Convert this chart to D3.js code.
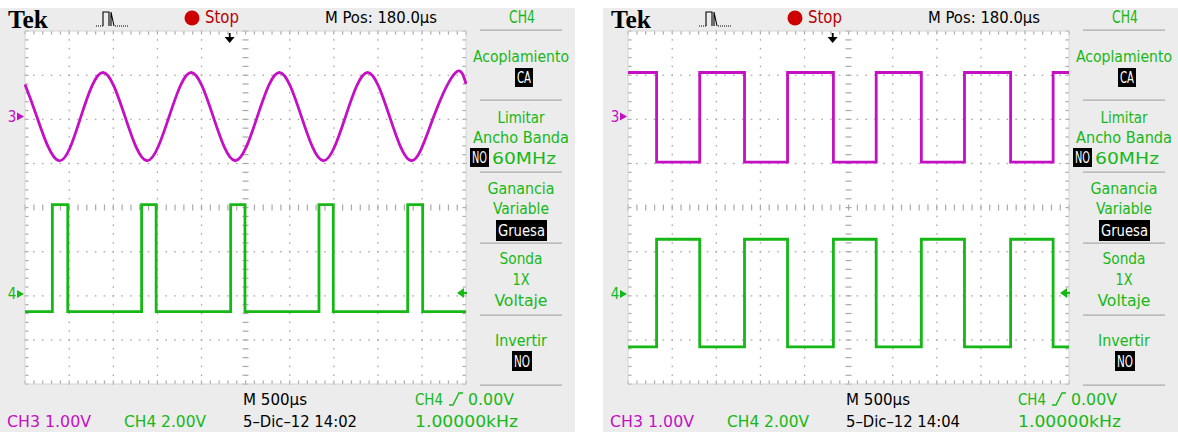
<!DOCTYPE html>
<html><head><meta charset="utf-8">
<script src="https://cdn.jsdelivr.net/npm/d3@7"></script>
<style>body{margin:0;background:#fff}svg{display:block}</style>
</head><body><svg id="c" width="1178" height="432"></svg>
<script>
// ---------- data ----------
const timeDomainUs = [0, 5000];          // 10 div x 500 us
const divDomain = [-4, 4];               // 8 vertical divisions
const ch3VoltsPerDiv = 1.0;
const ch4VoltsPerDiv = 2.0;
const ch3OffsetDiv = 2.06;
const ch4OffsetDiv = -1.96;

// Screen 1 (14:02): CH3 sine, CH4 narrow pulses
const s1Ch3Times = [0,134,384,634,884,1134,1384,1634,1884,2134,2384,2634,2884,3134,3384,3634,3884,4134,4384,4634,4884,5000];
const s1Ch3Volts = [0.73,0,-1,0,1,0,-1,0,1,0,-1,0,1,0,-1,0,1,0,-1,0,1,0.74];
const s1Ch4Times = [0,310,485,1322,1487,2332,2494,3333,3495,4339,4509,5000];
const s1Ch4Volts = [-0.8,4.05,-0.8,4.05,-0.8,4.05,-0.8,4.05,-0.8,4.05,-0.8,-0.8];

// Screen 2 (14:04): CH3 square, CH4 inverted square
const s2Times = [0,324,813,1321,1809,2329,2814,3326,3815,4338,4820,5000];
const s2Ch3Volts = [1,-1.03,1,-1.03,1,-1.03,1,-1.03,1,-1.03,1,1];
const s2Ch4Volts = [-2.4,2.48,-2.4,2.48,-2.4,2.48,-2.4,2.48,-2.4,2.48,-2.4,-2.4];

const headerLabels = {brand:"Tek", state:"Stop", mpos:"M Pos: 180.0\u00b5s", channel:"CH4"};
const triggerPosUs = 2320;
const menuLabels = ["Acoplamiento","Limitar","Ancho Banda","60MHz","Ganancia","Variable","Sonda","1X","Voltaje","Invertir"];
const menuBoxes = ["CA","NO","Gruesa","NO"];
const footerLabels = {timebase:"M 500\u00b5s", trig:"0.00V", trigCh:"CH4", ch3:"CH3  1.00V", ch4:"CH4  2.00V", freq:"1.00000kHz"};
const dateLabels = ["5\u2013Dic\u201312 14:02","5\u2013Dic\u201312 14:04"];

// ---------- drawing ----------
const MAG = "#c40fc4", GRN = "#16b816", GRID = "#a9a9a9", BG = "#ececec";
const FONT = "'DejaVu Sans Condensed','Liberation Sans Narrow','DejaVu Sans',sans-serif";
const svg = d3.select("#c");

const x = d3.scaleLinear().domain(timeDomainUs).range([25, 466]);
const y = d3.scaleLinear().domain(divDomain).range([384, 31]);

const panels = [
  {x0:0, ch3:s1Ch3Times.map((t,i)=>({t, v:s1Ch3Volts[i]})), ch3Curve:d3.curveNatural,
          ch4:s1Ch4Times.map((t,i)=>({t, v:s1Ch4Volts[i]})), date:dateLabels[0]},
  {x0:603, ch3:s2Times.map((t,i)=>({t, v:s2Ch3Volts[i]})), ch3Curve:d3.curveStepAfter,
          ch4:s2Times.map((t,i)=>({t, v:s2Ch4Volts[i]})), date:dateLabels[1]}
];

function txt(g, s, px, py, o={}) {
  const t = g.append("text").attr("x", px).attr("y", py).text(s)
    .attr("font-family", o.family || FONT).attr("font-size", o.size || 16)
    .attr("fill", o.fill || "#000").attr("text-anchor", o.anchor || "start")
    .attr("dominant-baseline", "central");
  if (o.weight) t.attr("font-weight", o.weight);
  if (o.len) t.attr("textLength", o.len).attr("lengthAdjust", "spacingAndGlyphs");
  return t;
}

panels.forEach((p, pi) => {
  const g = svg.append("g").attr("transform", `translate(${p.x0},0)`);
  g.append("rect").attr("x",0).attr("y",8).attr("width",575).attr("height",424).attr("fill",BG);
  g.append("rect").attr("x",x(0)).attr("y",y(4)).attr("width",x(5000)-x(0)).attr("height",y(-4)-y(4)).attr("fill","#fff");

  // graticule
  const gr = g.append("g").attr("fill", GRID);
  const minorT = d3.range(0, 5001, 100), minorV = d3.range(-4, 4.001, 0.2);
  d3.range(500, 5000, 500).filter(t=>t!==2500).forEach(t => {
    minorV.forEach(v => gr.append("rect").attr("x", x(t)-0.5).attr("y", y(v)-0.75).attr("width",1.3).attr("height",1.6));
  });
  d3.range(-3, 4, 1).filter(v=>v!==0).forEach(v => {
    minorT.forEach(t => gr.append("rect").attr("x", x(t)-0.75).attr("y", y(v)-0.5).attr("width",1.6).attr("height",1.3));
  });
  minorT.forEach(t => gr.append("rect").attr("x", x(t)-0.5).attr("y", y(0)-3).attr("width",1.2).attr("height",6));
  minorV.forEach(v => gr.append("rect").attr("x", x(2500)-3).attr("y", y(v)-0.5).attr("width",6).attr("height",1.2));
  minorT.forEach(t => {
    gr.append("rect").attr("x", x(t)-0.5).attr("y", y(4)).attr("width",1.2).attr("height",3.5);
    gr.append("rect").attr("x", x(t)-0.5).attr("y", y(-4)-3.5).attr("width",1.2).attr("height",3.5);
  });
  minorV.forEach(v => {
    gr.append("rect").attr("x", x(0)).attr("y", y(v)-0.5).attr("width",3.5).attr("height",1.2);
    gr.append("rect").attr("x", x(5000)-3.5).attr("y", y(v)-0.5).attr("width",3.5).attr("height",1.2);
  });
  g.append("rect").attr("x",x(0)).attr("y",y(4)).attr("width",x(5000)-x(0)).attr("height",y(-4)-y(4))
    .attr("fill","none").attr("stroke","#d4d4d4").attr("stroke-width",1);

  // traces
  const cid = "clip"+pi;
  g.append("clipPath").attr("id",cid).append("rect").attr("x",x(0)-1).attr("y",y(4)).attr("width",x(5000)-x(0)+2).attr("height",y(-4)-y(4));
  const l3 = d3.line().x(d=>x(d.t)).y(d=>y(ch3OffsetDiv + d.v/ch3VoltsPerDiv)).curve(p.ch3Curve);
  const l4 = d3.line().x(d=>x(d.t)).y(d=>y(ch4OffsetDiv + d.v/ch4VoltsPerDiv)).curve(d3.curveStepAfter);
  g.append("path").attr("clip-path",`url(#${cid})`).attr("d", l4(p.ch4)).attr("fill","none").attr("stroke",GRN).attr("stroke-width",2.8);
  g.append("path").attr("clip-path",`url(#${cid})`).attr("d", l3(p.ch3)).attr("fill","none").attr("stroke",MAG).attr("stroke-width",2.8);

  // channel markers
  const y3 = y(ch3OffsetDiv), y4 = y(ch4OffsetDiv);
  txt(g, "3", 12, y3, {fill:MAG, size:15, anchor:"middle"});
  g.append("path").attr("d", `M17,${y3-4}L24,${y3}L17,${y3+4}Z`).attr("fill",MAG);
  txt(g, "4", 12, y4, {fill:GRN, size:15, anchor:"middle"});
  g.append("path").attr("d", `M17,${y4-4}L24,${y4}L17,${y4+4}Z`).attr("fill",GRN);
  const yl = y4 - 1;
  g.append("path").attr("d", `M457,${yl}L464,${yl-5}L464,${yl+5}Z`).attr("fill",GRN);
  g.append("rect").attr("x",463).attr("y",yl-1.2).attr("width",4).attr("height",2.4).attr("fill",GRN);
  const xt = x(triggerPosUs);
  g.append("rect").attr("x",xt-0.8).attr("y",33).attr("width",1.8).attr("height",6).attr("fill","#000");
  g.append("path").attr("d", `M${xt-5},37L${xt+5},37L${xt},43Z`).attr("fill","#000");

  // header
  txt(g, headerLabels.brand, 8, 19, {family:"'Liberation Serif','DejaVu Serif',serif", size:25, weight:"bold", len:40});
  const ic = g.append("g").attr("stroke","#000").attr("fill","none").attr("stroke-width",1.1);
  ic.append("path").attr("d","M96,26H103").attr("stroke-dasharray","1,1");
  ic.append("path").attr("d","M103,26V12H109V26M111,12V26M111,12L114,26");
  ic.append("path").attr("d","M115,26H128").attr("stroke-dasharray","1,1");
  g.append("circle").attr("cx",192).attr("cy",18).attr("r",7.5).attr("fill","#cc0000");
  txt(g, headerLabels.state, 205, 17, {fill:"#b80000", size:17, len:34});
  txt(g, headerLabels.mpos, 325, 17, {size:16, len:112});
  txt(g, headerLabels.channel, 522, 17, {fill:GRN, size:17, anchor:"middle", len:26});

  // side menu
  [30,100,172,243,315,385].forEach(yy => g.append("rect").attr("x",480).attr("y",yy-0.5).attr("width",82).attr("height",1.2).attr("fill","#a8a8a8"));
  const cx = 521;
  txt(g, menuLabels[0], cx, 56, {fill:GRN, size:16, anchor:"middle", len:96});
  txt(g, menuLabels[1], cx, 117, {fill:GRN, size:16, anchor:"middle", len:47});
  txt(g, menuLabels[2], cx, 137, {fill:GRN, size:16, anchor:"middle", len:96});
  txt(g, menuLabels[3], 492, 158, {fill:GRN, size:16, len:64});
  txt(g, menuLabels[4], cx, 188, {fill:GRN, size:16, anchor:"middle", len:67});
  txt(g, menuLabels[5], cx, 208, {fill:GRN, size:16, anchor:"middle", len:56});
  txt(g, menuLabels[6], cx, 258, {fill:GRN, size:16, anchor:"middle", len:43});
  txt(g, menuLabels[7], cx, 279, {fill:GRN, size:16, anchor:"middle", len:17});
  txt(g, menuLabels[8], cx, 300, {fill:GRN, size:16, anchor:"middle", len:53});
  txt(g, menuLabels[9], cx, 340, {fill:GRN, size:16, anchor:"middle", len:52});
  const boxes = [[515,68,18,19,menuBoxes[0]],[470,148,19,19,menuBoxes[1]],[496,220,51,21,menuBoxes[2]],[512,351,20,20,menuBoxes[3]]];
  boxes.forEach(b => {
    g.append("rect").attr("x",b[0]).attr("y",b[1]).attr("width",b[2]).attr("height",b[3]).attr("fill","#000");
    txt(g, b[4], b[0]+b[2]/2, b[1]+b[3]/2+0.5, {fill:"#fff", size:15, anchor:"middle", len:b[2]-4});
  });

  // footer
  txt(g, footerLabels.timebase, 243, 399, {size:16, len:64});
  txt(g, footerLabels.trigCh, 415, 399, {fill:GRN, size:16, len:28});
  g.append("path").attr("d","M449,405H453L459,393H463").attr("stroke",GRN).attr("stroke-width",1.4).attr("fill","none");
  txt(g, footerLabels.trig, 468, 399, {fill:GRN, size:16, len:46});
  txt(g, footerLabels.ch3, 7, 421, {fill:MAG, size:16, len:84});
  txt(g, footerLabels.ch4, 124, 421, {fill:GRN, size:16, len:82});
  txt(g, p.date, 243, 421, {size:16, len:114});
  txt(g, footerLabels.freq, 415, 421, {fill:GRN, size:16, len:103});
});
</script></body></html>
